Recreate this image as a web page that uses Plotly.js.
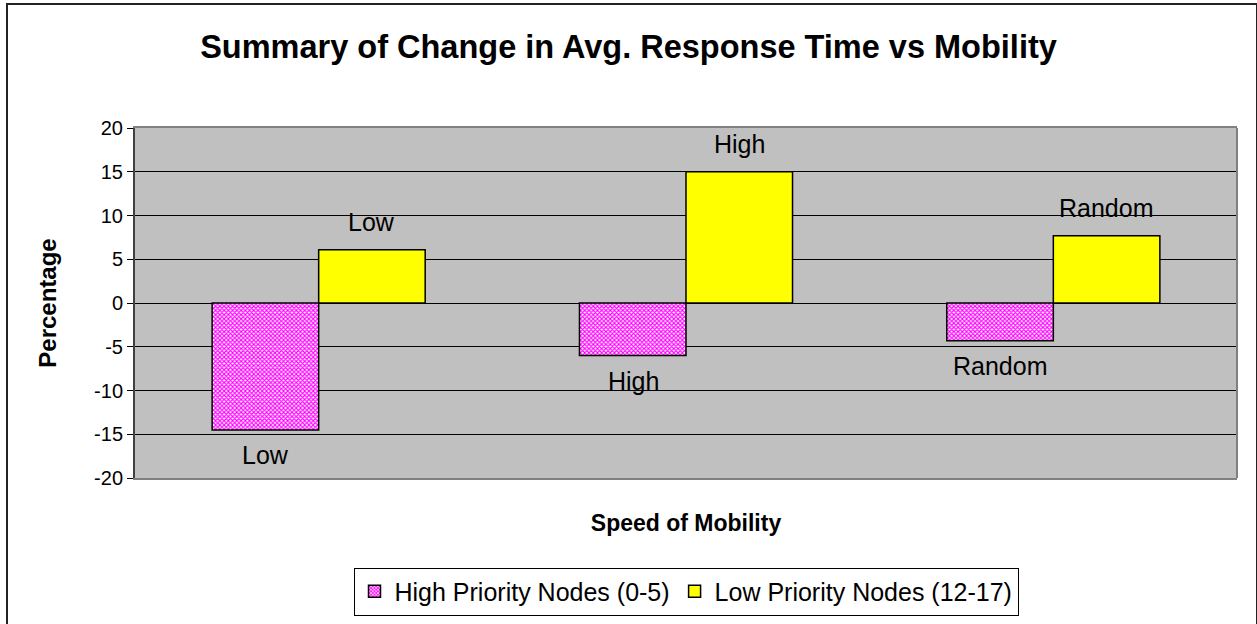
<!DOCTYPE html>
<html>
<head>
<meta charset="utf-8">
<script src="https://cdn.plot.ly/plotly-3.0.1.min.js"></script>
<style>
  html, body { margin: 0; padding: 0; overflow: hidden; background: #ffffff; }
  #wrap { position: relative; width: 1257px; height: 624px; }
  #chart { position: absolute; left: 0; top: 0; width: 1257px; height: 624px; }
  #frame { position: absolute; left: 6px; top: 3px; width: 1248px; height: 700px;
           border: 2px solid #222222; pointer-events: none; }
</style>
</head>
<body>
<div id="wrap">
  <div id="chart"></div>
  <div id="frame"></div>
</div>
<script>
// ---- data ----
const categories = ["Low", "High", "Random"];
const highPriority = [-14.5, -6.0, -4.3];
const lowPriority = [6.1, 15.0, 7.7];
const seriesNames = ["High Priority Nodes (0-5)", "Low Priority Nodes (12-17)"];
const yTicks = [-20, -15, -10, -5, 0, 5, 10, 15, 20];

const FONT = "Arial, 'Liberation Sans', sans-serif";

const traces = [
  {
    type: "bar",
    name: seriesNames[0],
    x: categories,
    y: highPriority,
    marker: {
      color: "#ffffff",
      line: { color: "#000000", width: 1.5 },
      pattern: { shape: "x", fgcolor: "#ff00ff", bgcolor: "#ffffff", size: 3, solidity: 0.6 }
    },
    hoverinfo: "x+y"
  },
  {
    type: "bar",
    name: seriesNames[1],
    x: categories,
    y: lowPriority,
    marker: { color: "#ffff00", line: { color: "#000000", width: 1.5 } },
    hoverinfo: "x+y"
  }
];

// data labels: category name under negative bars, above positive bars
const annotations = [];
categories.forEach((c, i) => {
  annotations.push({
    x: c, y: highPriority[i], xref: "x", yref: "y",
    text: c, showarrow: false, xshift: -53, yshift: -25,
    yanchor: "middle", xanchor: "center",
    font: { family: FONT, size: 25, color: "#000000" }
  });
  annotations.push({
    x: c, y: lowPriority[i], xref: "x", yref: "y",
    text: c, showarrow: false, xshift: 53, yshift: 28,
    yanchor: "middle", xanchor: "center",
    font: { family: FONT, size: 25, color: "#000000" }
  });
});

const layout = {
  width: 1257,
  height: 624,
  margin: { l: 135, r: 20, t: 128, b: 146, pad: 0, autoexpand: false },
  paper_bgcolor: "#ffffff",
  plot_bgcolor: "#c0c0c0",
  font: { family: FONT, size: 20, color: "#000000" },
  title: {
    text: "<b>Summary of Change in Avg. Response Time vs Mobility</b>",
    font: { family: FONT, size: 32.5, color: "#000000" },
    x: 0.5, xref: "container", xanchor: "center",
    y: 0.925, yref: "container", yanchor: "middle"
  },
  barmode: "group",
  bargap: 0.42,
  bargroupgap: 0,
  showlegend: true,
  legend: {
    orientation: "h",
    x: 0.5, xanchor: "center",
    y: -0.256, yanchor: "top",
    bgcolor: "#ffffff",
    bordercolor: "#000000",
    borderwidth: 1,
    font: { family: FONT, size: 25, color: "#000000" },
    traceorder: "normal",
    itemwidth: 30,
    tracegroupgap: 0
  },
  xaxis: {
    type: "category",
    showticklabels: false,
    ticks: "",
    showgrid: false,
    zeroline: false,
    showline: true,
    linecolor: "#808080",
    linewidth: 2,
    mirror: true,
    automargin: false,
    title: {
      text: "<b>Speed of Mobility</b>",
      font: { family: FONT, size: 23, color: "#000000" },
      standoff: 36
    }
  },
  yaxis: {
    range: [-20, 20],
    tickvals: yTicks,
    ticktext: yTicks.map(String),
    ticks: "outside",
    ticklen: 6,
    tickcolor: "#000000",
    tickfont: { family: FONT, size: 20, color: "#000000" },
    showgrid: true,
    gridcolor: "#000000",
    gridwidth: 1,
    zeroline: true,
    zerolinecolor: "#000000",
    zerolinewidth: 1,
    showline: true,
    linecolor: "#404040",
    linewidth: 2,
    title: {
      text: "<b>Percentage</b>",
      font: { family: FONT, size: 24, color: "#000000" },
      standoff: 31
    },
    automargin: false
  },
  shapes: [
    { type: "line", xref: "paper", yref: "paper", x0: 1, x1: 1, y0: 0, y1: 1,
      line: { color: "#808080", width: 2 } }
  ],
  annotations: annotations
};

Plotly.newPlot("chart", traces, layout, { displayModeBar: false, staticPlot: true });
</script>
</body>
</html>
